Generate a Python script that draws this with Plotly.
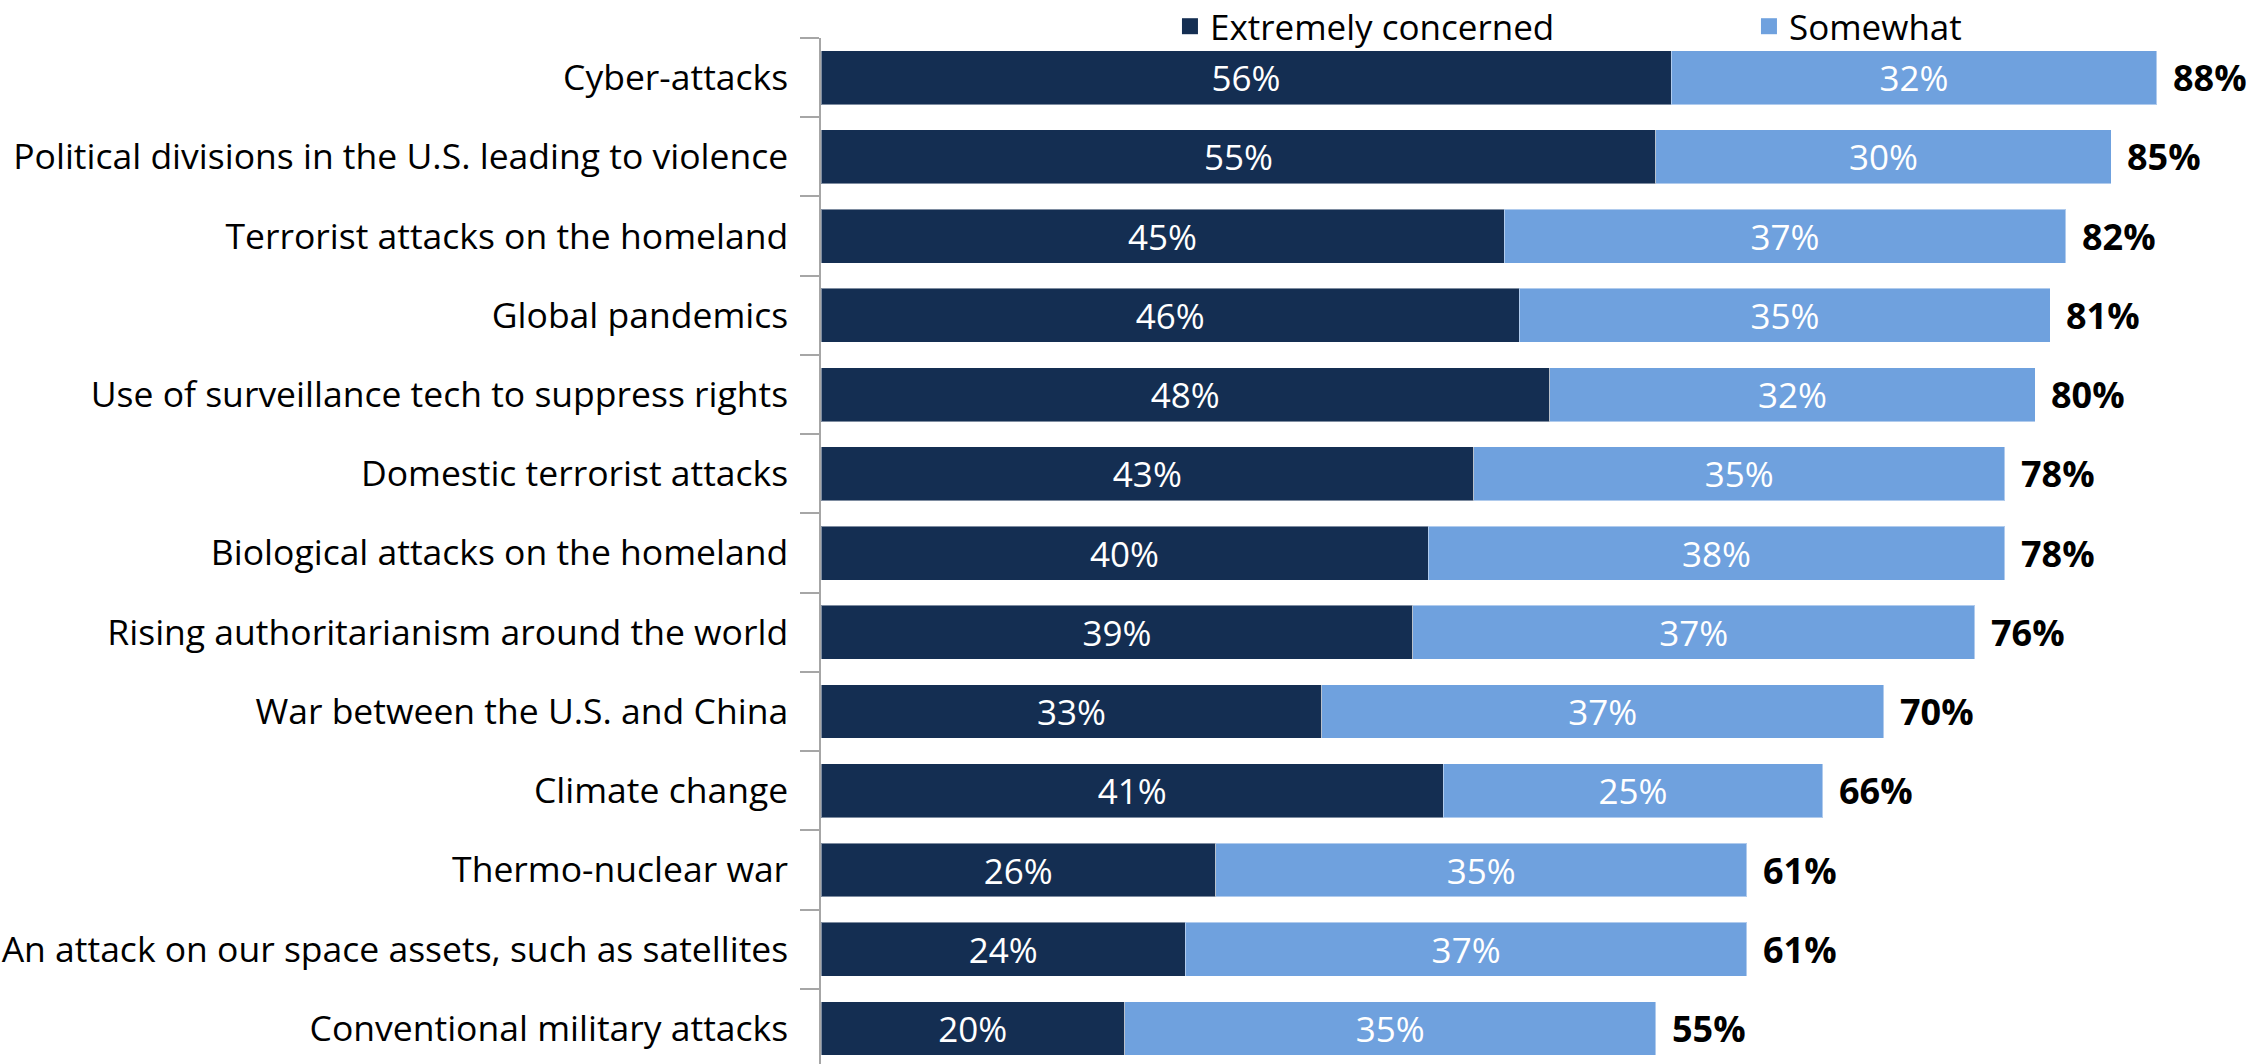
import plotly.graph_objects as go

categories = [
    "Cyber-attacks",
    "Political divisions in the U.S. leading to violence",
    "Terrorist attacks on the homeland",
    "Global pandemics",
    "Use of surveillance tech to suppress rights",
    "Domestic terrorist attacks",
    "Biological attacks on the homeland",
    "Rising authoritarianism around the world",
    "War between the U.S. and China",
    "Climate change",
    "Thermo-nuclear war",
    "An attack on our space assets, such as satellites",
    "Conventional military attacks",
]
extremely = [56, 55, 45, 46, 48, 43, 40, 39, 33, 41, 26, 24, 20]
somewhat = [32, 30, 37, 35, 32, 35, 38, 37, 37, 25, 35, 37, 35]
totals = [88, 85, 82, 81, 80, 78, 78, 76, 70, 66, 61, 61, 55]
series_names = ["Extremely concerned", "Somewhat"]

DARK = "#142E52"
LIGHT = "#6FA1DE"
FONT = "Open Sans"

fig = go.Figure()
for name, vals, col in [(series_names[0], extremely, DARK), (series_names[1], somewhat, LIGHT)]:
    fig.add_trace(go.Bar(
        y=categories, x=vals, orientation="h", name=name, showlegend=False,
        marker=dict(color=col, line=dict(color="rgba(255,255,255,0.45)", width=1)),
        text=[f"{v}%" for v in vals], textposition="inside",
        insidetextanchor="middle",
        textfont=dict(color="white", size=35, family=FONT),
        hoverinfo="skip",
    ))
# legend entries (square swatches)
for name, col in [(series_names[0], DARK), (series_names[1], LIGHT)]:
    fig.add_trace(go.Scatter(
        x=[None], y=[None], mode="markers", name=name,
        marker=dict(symbol="square", size=16, color=col),
        hoverinfo="skip",
    ))

for c, t in zip(categories, totals):
    fig.add_annotation(
        x=t, y=c, text=f"<b>{t}%</b>", showarrow=False,
        xanchor="left", xshift=14,
        font=dict(size=36, family=FONT, color="black"),
    )

fig.update_layout(
    width=2263, height=1064,
    barmode="stack", bargap=0.32,
    plot_bgcolor="white", paper_bgcolor="white",
    margin=dict(l=821, r=0, t=38, b=0, autoexpand=False),
    font=dict(family=FONT, size=35, color="black"),
    uniformtext=dict(minsize=35, mode="show"),
    showlegend=True,
    legend=dict(
        orientation="h", x=0.242, xanchor="left", y=1.04, yanchor="top",
        traceorder="normal",
        font=dict(size=35, family=FONT, color="black"),
        entrywidth=534, entrywidthmode="pixels",
        bgcolor="rgba(0,0,0,0)",
    ),
    xaxis=dict(range=[0, 95.0], visible=False, fixedrange=True),
    yaxis=dict(
        categoryorder="array", categoryarray=categories,
        range=[12.448, -0.5],
        showline=True, linecolor="#A6A6A6", linewidth=1.5,
        ticks="outside", ticklen=19, tickcolor="#A6A6A6", tickwidth=1.5,
        tickson="boundaries", ticklabelstandoff=24,
        tickfont=dict(size=35.5, family=FONT, color="black"),
        showgrid=False, automargin=False,
    ),
)

fig.write_html("out.html", config={"displayModeBar": False},
               post_script="document.body.style.margin='0';")
